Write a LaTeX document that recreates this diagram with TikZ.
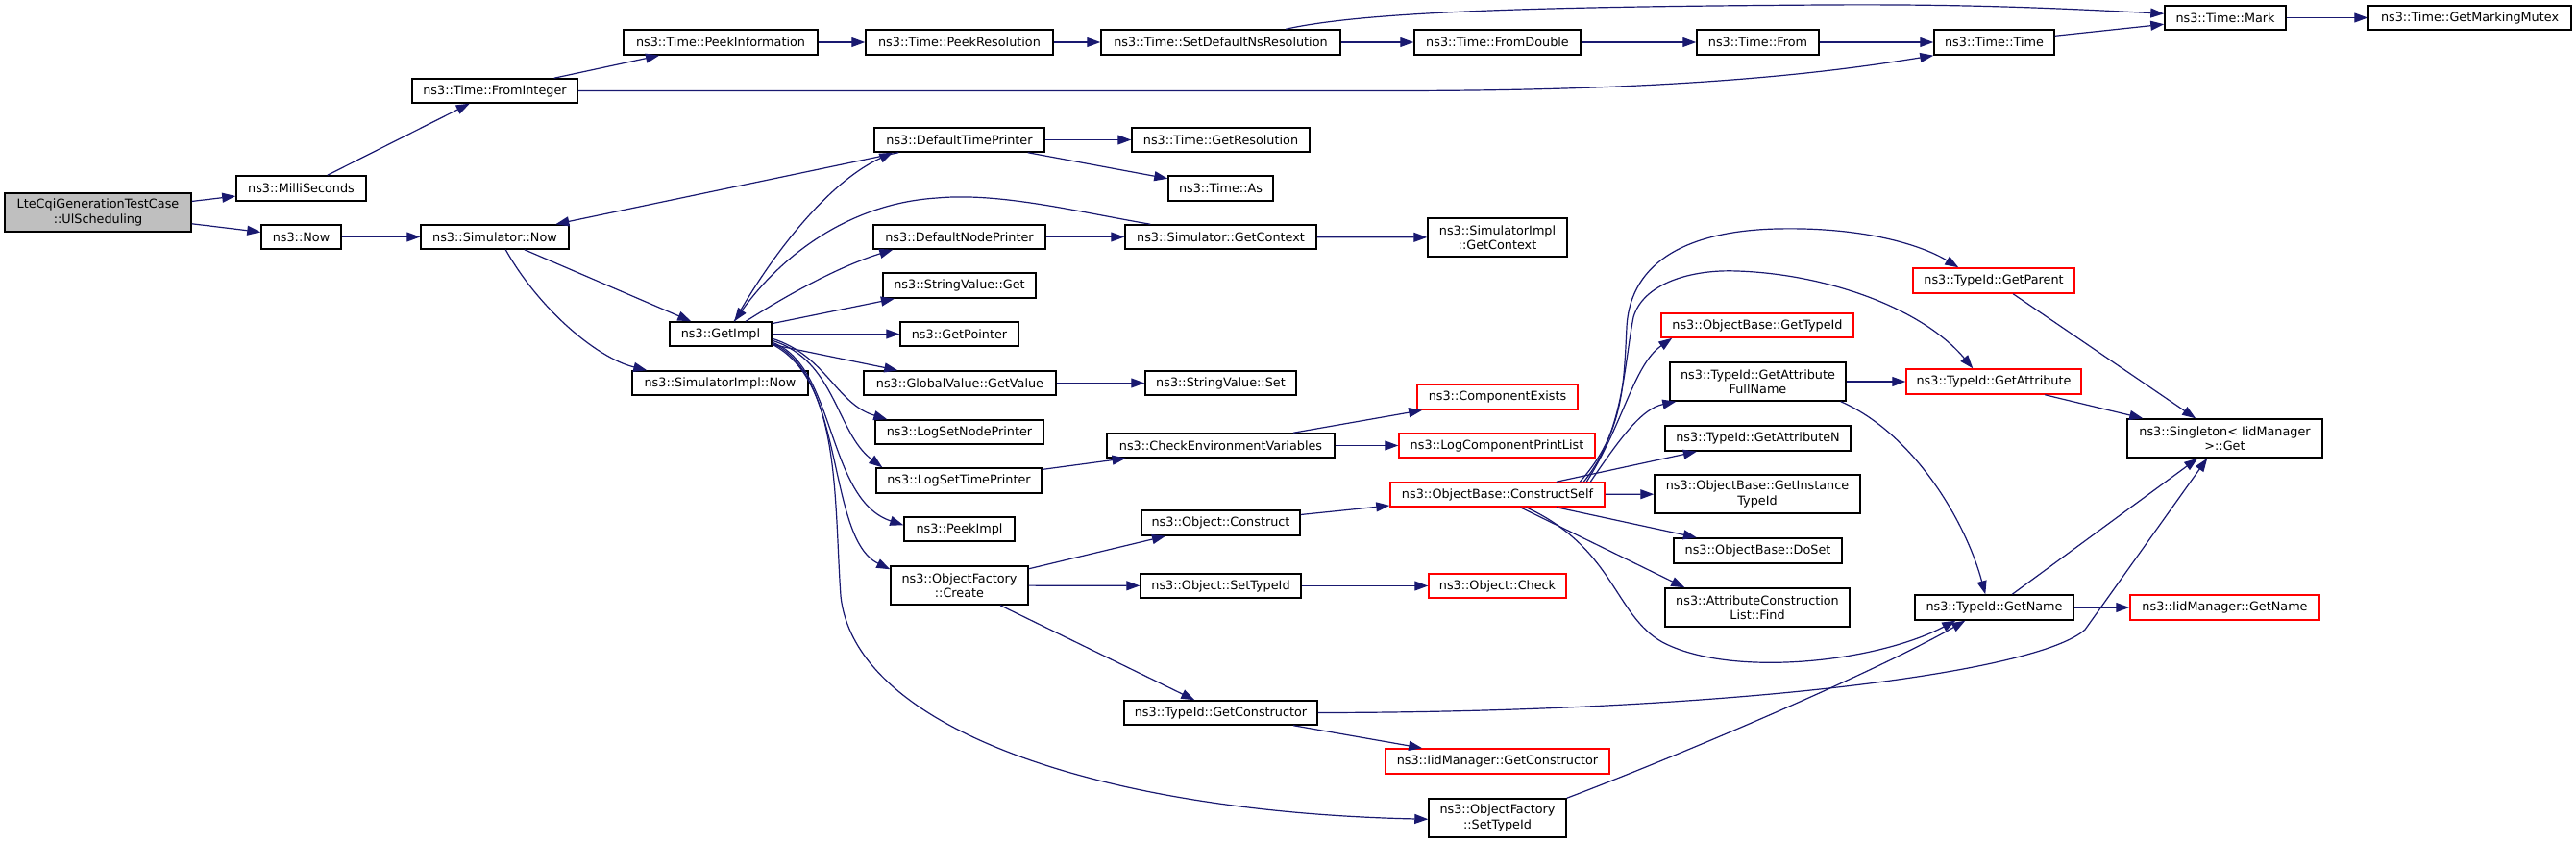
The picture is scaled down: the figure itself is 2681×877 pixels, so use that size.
\documentclass[tikz,border=0pt]{standalone}
\usepackage{fontspec}
\setmainfont{DejaVu Sans}
\usetikzlibrary{arrows.meta}
\definecolor{edgeblue}{HTML}{191970}
\definecolor{rootgrey}{HTML}{BFBFBF}
\definecolor{boxred}{HTML}{FF0000}
\newcommand{\mybox}[7]{%
  \pgfmathsetmacro\mbcx{(#3+#5)/2}%
  \pgfmathsetmacro\mbcy{(#4+#6)/2}%
  \pgfmathsetmacro\mbw{#5-#3}%
  \pgfmathsetmacro\mbh{#6-#4}%
  \node[#1, minimum width=\mbw pt, minimum height=\mbh pt] (#2) at (\mbcx,\mbcy) {#7};}
\begin{document}
\begin{tikzpicture}[x=1pt,y=-1pt,
  box/.style={draw=black, line width=1.5pt, fill=white, inner sep=0pt, align=center,
    font=\fontsize{12.8}{15.3}\selectfont},
  redbox/.style={box, draw=boxred},
  rootbox/.style={box, fill=rootgrey},
  edge/.style={draw=edgeblue, line width=1.2pt, -{Triangle[length=14pt,width=10pt]}}]
\useasboundingbox (0,0) rectangle (2681,877);
% nodes
\mybox{rootbox}{lte}{5}{201}{199}{241}{LteCqiGenerationTestCase\\::UlScheduling}
\mybox{box}{milli}{246}{183}{381}{209}{ns3::MilliSeconds}
\mybox{box}{now}{272}{234}{355}{259}{ns3::Now}
\mybox{box}{fromint}{429}{82}{601}{107}{ns3::Time::FromInteger}
\mybox{box}{simnow}{438}{234}{592}{259}{ns3::Simulator::Now}
\mybox{box}{peekinfo}{649}{31}{851}{57}{ns3::Time::PeekInformation}
\mybox{box}{peekres}{901}{31}{1096}{57}{ns3::Time::PeekResolution}
\mybox{box}{setdef}{1146}{31}{1395}{57}{ns3::Time::SetDefaultNsResolution}
\mybox{box}{fromdbl}{1472}{31}{1645}{57}{ns3::Time::FromDouble}
\mybox{box}{from}{1766}{31}{1893}{57}{ns3::Time::From}
\mybox{box}{time}{2013}{31}{2138}{57}{ns3::Time::Time}
\mybox{box}{mark}{2253}{6}{2379}{31}{ns3::Time::Mark}
\mybox{box}{mutex}{2465}{6}{2676}{31}{ns3::Time::GetMarkingMutex}
\mybox{box}{dtp}{910}{133}{1087}{158}{ns3::DefaultTimePrinter}
\mybox{box}{getres}{1178}{133}{1363}{158}{ns3::Time::GetResolution}
\mybox{box}{as}{1216}{183}{1325}{209}{ns3::Time::As}
\mybox{box}{dnp}{909}{234}{1088}{259}{ns3::DefaultNodePrinter}
\mybox{box}{simctx}{1171}{234}{1370}{259}{ns3::Simulator::GetContext}
\mybox{box}{implctx}{1486}{227}{1631}{267}{ns3::SimulatorImpl\\::GetContext}
\mybox{box}{svget}{919}{284}{1078}{310}{ns3::StringValue::Get}
\mybox{box}{getimpl}{697}{335}{803}{360}{ns3::GetImpl}
\mybox{box}{getptr}{937}{335}{1060}{360}{ns3::GetPointer}
\mybox{box}{implnow}{658}{386}{841}{411}{ns3::SimulatorImpl::Now}
\mybox{box}{gvget}{899}{386}{1099}{411}{ns3::GlobalValue::GetValue}
\mybox{box}{svset}{1192}{386}{1349}{411}{ns3::StringValue::Set}
\mybox{box}{lsnp}{911}{437}{1086}{462}{ns3::LogSetNodePrinter}
\mybox{box}{checkenv}{1152}{451}{1389}{476}{ns3::CheckEnvironmentVariables}
\mybox{box}{lstp}{912}{487}{1084}{513}{ns3::LogSetTimePrinter}
\mybox{box}{peekimpl}{941}{538}{1056}{563}{ns3::PeekImpl}
\mybox{box}{construct}{1188}{531}{1353}{557}{ns3::Object::Construct}
\mybox{box}{create}{927}{589}{1070}{629}{ns3::ObjectFactory\\::Create}
\mybox{box}{objsettid}{1187}{597}{1354}{622}{ns3::Object::SetTypeId}
\mybox{box}{getctor}{1170}{729}{1371}{754}{ns3::TypeId::GetConstructor}
\mybox{redbox}{compexists}{1475}{400}{1642}{426}{ns3::ComponentExists}
\mybox{redbox}{logcpl}{1456}{451}{1660}{476}{ns3::LogComponentPrintList}
\mybox{redbox}{cself}{1447}{502}{1670}{527}{ns3::ObjectBase::ConstructSelf}
\mybox{redbox}{check}{1487}{597}{1630}{622}{ns3::Object::Check}
\mybox{redbox}{iidctor}{1442}{779}{1675}{805}{ns3::IidManager::GetConstructor}
\mybox{box}{ofsettid}{1487}{831}{1630}{871}{ns3::ObjectFactory\\::SetTypeId}
\mybox{redbox}{obgettid}{1729}{326}{1929}{351}{ns3::ObjectBase::GetTypeId}
\mybox{box}{gafn}{1738}{377}{1921}{417}{ns3::TypeId::GetAttribute\\FullName}
\mybox{box}{gan}{1733}{443}{1926}{469}{ns3::TypeId::GetAttributeN}
\mybox{box}{git}{1722}{494}{1936}{534}{ns3::ObjectBase::GetInstance\\TypeId}
\mybox{box}{doset}{1742}{560}{1917}{586}{ns3::ObjectBase::DoSet}
\mybox{box}{find}{1733}{612}{1925}{652}{ns3::AttributeConstruction\\List::Find}
\mybox{redbox}{parent}{1991}{279}{2159}{305}{ns3::TypeId::GetParent}
\mybox{redbox}{getattr}{1984}{384}{2166}{410}{ns3::TypeId::GetAttribute}
\mybox{box}{singleton}{2214}{436}{2417}{476}{ns3::Singleton< IidManager\\ >::Get}
\mybox{box}{getname}{1993}{619}{2158}{645}{ns3::TypeId::GetName}
\mybox{redbox}{iidname}{2217}{619}{2414}{645}{ns3::IidManager::GetName}
% edges
\draw[edge] (lte) -- (milli);
\draw[edge] (lte) -- (now);
\draw[edge] (milli) -- (fromint);
\draw[edge] (now) -- (simnow);
\draw[edge] (fromint) -- (peekinfo);
\draw[edge] (fromint.east) -- (1450,94.5) .. controls (1750,94.5) and (1900,76) .. (time.south west);
\draw[edge] (peekinfo) -- (peekres);
\draw[edge] (peekres) -- (setdef);
\draw[edge] (setdef) -- (fromdbl);
\draw[edge] ([xshift=193pt]setdef.north west) .. controls (1420,12) and (1600,7) .. (1900,5) .. controls (2050,4) and (2150,9) .. ([yshift=-9pt]mark.north west);
\draw[edge] (fromdbl) -- (from);
\draw[edge] (from) -- (time);
\draw[edge] (time) -- (mark);
\draw[edge] (mark) -- (mutex);
\draw[edge] (simnow) -- (getimpl);
\draw[edge] ([xshift=89pt]simnow.south west) .. controls (560,320) and (620,372) .. ([xshift=16pt]implnow.north west);
\draw[edge] (dtp) -- (simnow);
\draw[edge] (dtp) -- (getres);
\draw[edge] (dtp) -- (as);
\draw[edge] ([xshift=68pt]getimpl.north west) .. controls (800,270) and (860,190) .. ([xshift=20pt]dtp.south west);
\draw[edge] ([xshift=27pt]simctx.north west) .. controls (1120,220) and (1040,200) .. (975,206) .. controls (880,212) and (810,270) .. ([xshift=68pt]getimpl.north west);
\draw[edge] ([xshift=80pt]getimpl.north west) .. controls (830,300) and (880,275) .. ([xshift=21pt]dnp.south west);
\draw[edge] (dnp) -- (simctx);
\draw[edge] (simctx) -- (implctx);
\draw[edge] (getimpl) -- (svget);
\draw[edge] (getimpl) -- (getptr);
\draw[edge] (getimpl) -- (gvget);
\draw[edge] (gvget) -- (svset);
\draw[edge] ([yshift=-18pt]getimpl.north east) .. controls (860,370) and (870,420) .. ([xshift=13pt]lsnp.north west);
\draw[edge] ([yshift=-20pt]getimpl.north east) .. controls (870,375) and (870,450) .. ([xshift=7pt]lstp.north west);
\draw[edge] ([yshift=-22pt]getimpl.north east) .. controls (870,380) and (860,520) .. ([yshift=-9pt]peekimpl.north west);
\draw[edge] ([yshift=-23pt]getimpl.north east) .. controls (880,390) and (860,560) .. ([yshift=-4pt]create.north west);
\draw[edge] ([yshift=-24pt]getimpl.north east) .. controls (875,395) and (868,520) .. (875,620) .. controls (890,760) and (1150,845) .. ([yshift=-22pt]ofsettid.north west);
\draw[edge] (lstp) -- (checkenv);
\draw[edge] (checkenv) -- (compexists);
\draw[edge] (checkenv) -- (logcpl);
\draw[edge] (create) -- (construct);
\draw[edge] (create) -- (objsettid);
\draw[edge] (create) -- (getctor);
\draw[edge] (construct) -- (cself);
\draw[edge] (objsettid) -- (check);
\draw[edge] (getctor) -- (iidctor);
\draw[edge] (getctor.east) .. controls (1800,741) and (2120,700) .. (2170,655) -- ([xshift=84pt]singleton.south west);
\draw[edge] (getname) -- (singleton);
\draw[edge] (getname) -- (iidname);
\draw[edge] (parent) -- (singleton);
\draw[edge] ([xshift=145pt]getattr.south west) -- ([xshift=17pt]singleton.north west);
\draw[edge] (gafn) -- (getattr);
\draw[edge] ([xshift=-6pt]gafn.south east) .. controls (1990,450) and (2045,540) .. ([xshift=74pt]getname.north west);
\draw[edge] ([xshift=205pt]cself.north west) .. controls (1690,440) and (1700,380) .. ([xshift=12pt]obgettid.south west);
\draw[edge] ([xshift=209pt]cself.north west) .. controls (1690,450) and (1710,425) .. ([xshift=7pt]gafn.south west);
\draw[edge] (cself) -- (gan);
\draw[edge] (cself) -- (git);
\draw[edge] (cself) -- (doset);
\draw[edge] ([xshift=136pt]cself.south west) -- ([xshift=21pt]find.north west);
\draw[edge] ([xshift=142pt]cself.south west) .. controls (1680,570) and (1680,640) .. (1730,668) .. controls (1800,705) and (1950,690) .. ([xshift=43pt]getname.south west);
\draw[edge] (ofsettid.north east) .. controls (1750,785) and (1950,700) .. ([xshift=53pt]getname.south west);
\draw[edge] ([xshift=198pt]cself.north west) .. controls (1690,450) and (1690,400) .. (1693,340) .. controls (1697,270) and (1760,240) .. (1850,238) .. controls (1940,236) and (2000,255) .. ([xshift=48pt]parent.north west);
\draw[edge] ([xshift=202pt]cself.north west) .. controls (1690,450) and (1690,380) .. (1700,330) .. controls (1710,295) and (1760,280) .. (1808,282) .. controls (1900,285) and (2000,320) .. ([xshift=70pt]getattr.north west);
\end{tikzpicture}
\end{document}
